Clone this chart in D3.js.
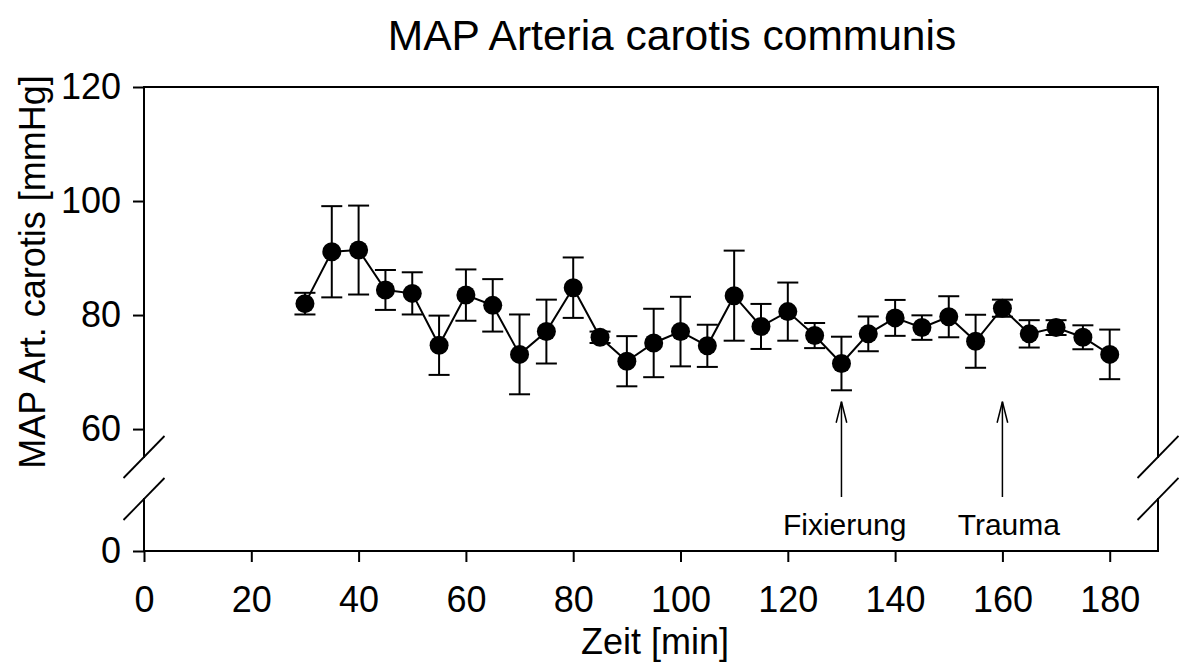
<!DOCTYPE html>
<meta charset="utf-8">
<html>
  <head>
    <title>MAP Arteria carotis communis</title>
    <style>
      body { margin: 0; background: #fff; }
      text { font-family: "Liberation Sans", Arial, sans-serif; fill: #000; }
    </style>
  </head>
  <body>
    <div id="chart"></div>
  </body>
<script src="https://d3js.org/d3.v7.min.js"></script>
<script>
// data
var times = [30,35,40,45,50,55,60,65,70,75,80,85,90,95,100,105,110,115,120,125,130,135,140,145,150,155,160,165,170,175,180]
var means = [82.0,91.1,91.4,84.4,83.8,74.7,83.5,81.7,73.1,77.1,84.8,76.1,71.9,75.1,77.1,74.6,83.4,78.0,80.6,76.4,71.5,76.7,79.5,77.8,79.7,75.4,81.2,76.7,77.8,76.1,73.1]
var errs  = [1.9,8.0,7.8,3.5,3.7,5.2,4.5,4.6,7.0,5.6,5.3,1.0,4.4,6.0,6.1,3.7,7.9,3.95,5.1,2.2,4.7,3.05,3.15,2.15,3.6,4.65,1.5,2.4,1.3,2.1,4.35]

var xTicks = [0,20,40,60,80,100,120,140,160,180]
var yTicksUpper = [60,80,100,120]
var yTicksLower = [0]

var events = [
  {label: "Fixierung", t: 130, tip: 64.8, labelT: 130.6},
  {label: "Trauma", t: 160, tip: 64.8, labelT: 161.2}
]

var margin = {top: 87, right: 21, bottom: 113, left: 144},
    width = 1179 - margin.left - margin.right,
    height = 664 - margin.top - margin.bottom;

var svg = d3.select("#chart")
  .append("svg")
    .attr("width", 1179)
    .attr("height", 664)

var g = svg.append("g")
    .attr("transform", "translate(" + margin.left + "," + margin.top + ")")

// broken y axis: upper part 55..120, lower part 0..9
var x = d3.scaleLinear().domain([0, 189]).range([0, width])
var yUp = d3.scaleLinear().domain([55.1, 120]).range([height - 94, 0])
var yLow = d3.scaleLinear().domain([0, 9.1]).range([height, height - 52])

var stroke = 2

// title
svg.append("text")
  .attr("x", 672)
  .attr("y", 50)
  .attr("text-anchor", "middle")
  .style("font-size", "42.5px")
  .text("MAP Arteria carotis communis")

// axes
var xAxis = g.append("g")
  .attr("transform", "translate(0," + height + ")")
  .call(d3.axisBottom(x).tickValues(xTicks).tickSize(11).tickPadding(24))
var yAxisUp = g.append("g")
  .call(d3.axisLeft(yUp).tickValues(yTicksUpper).tickSize(11).tickPadding(12))
var yAxisLow = g.append("g")
  .call(d3.axisLeft(yLow).tickValues(yTicksLower).tickSize(11).tickPadding(12))

g.selectAll(".domain").remove()
g.selectAll(".tick line").attr("stroke", "#000").attr("stroke-width", stroke)
g.selectAll(".tick text").style("font-size", "36px").attr("fill", "#000")

// frame lines
var frame = [
  [0, height, width, height],
  [0, 0, width, 0],
  [0, 0, 0, yUp(55.1)],
  [0, yLow(9.1), 0, height],
  [width, 0, width, yUp(55.1)],
  [width, yLow(9.1), width, height]
]
g.selectAll("frameLine")
  .data(frame)
  .enter()
  .append("line")
    .attr("x1", function(d){ return d[0] })
    .attr("y1", function(d){ return d[1] })
    .attr("x2", function(d){ return d[2] })
    .attr("y2", function(d){ return d[3] })
    .attr("stroke", "#000")
    .attr("stroke-width", stroke)
    .attr("stroke-linecap", "square")

// break marks
var breaks = []
;[0, width].forEach(function(bx){
  breaks.push([bx, yUp(55.1)])
  breaks.push([bx, yLow(9.1)])
})
g.selectAll("breakMark")
  .data(breaks)
  .enter()
  .append("line")
    .attr("x1", function(d){ return d[0] - 20.5 })
    .attr("y1", function(d){ return d[1] + 21 })
    .attr("x2", function(d){ return d[0] + 20.5 })
    .attr("y2", function(d){ return d[1] - 21 })
    .attr("stroke", "#000")
    .attr("stroke-width", 1.8)

// axis labels
svg.append("text")
  .attr("x", 655)
  .attr("y", 654)
  .attr("text-anchor", "middle")
  .style("font-size", "36px")
  .text("Zeit [min]")

svg.append("text")
  .attr("transform", "translate(45," + (margin.top + yUp(55.1) / 2) + ") rotate(-90)")
  .attr("text-anchor", "middle")
  .style("font-size", "36px")
  .text("MAP Art. carotis [mmHg]")

// data
var data = times.map(function(t, i){ return {t: t, m: means[i], e: errs[i]} })

g.append("path")
  .datum(data)
  .attr("fill", "none")
  .attr("stroke", "#000")
  .attr("stroke-width", stroke)
  .attr("d", d3.line()
    .x(function(d){ return x(d.t) })
    .y(function(d){ return yUp(d.m) }))

var bars = g.selectAll("errBar")
  .data(data)
  .enter()
  .append("g")
bars.append("line")
  .attr("x1", function(d){ return x(d.t) })
  .attr("x2", function(d){ return x(d.t) })
  .attr("y1", function(d){ return yUp(d.m - d.e) })
  .attr("y2", function(d){ return yUp(d.m + d.e) })
  .attr("stroke", "#000").attr("stroke-width", stroke)
bars.append("line")
  .attr("x1", function(d){ return x(d.t) - 10.5 })
  .attr("x2", function(d){ return x(d.t) + 10.5 })
  .attr("y1", function(d){ return yUp(d.m + d.e) })
  .attr("y2", function(d){ return yUp(d.m + d.e) })
  .attr("stroke", "#000").attr("stroke-width", stroke)
bars.append("line")
  .attr("x1", function(d){ return x(d.t) - 10.5 })
  .attr("x2", function(d){ return x(d.t) + 10.5 })
  .attr("y1", function(d){ return yUp(d.m - d.e) })
  .attr("y2", function(d){ return yUp(d.m - d.e) })
  .attr("stroke", "#000").attr("stroke-width", stroke)

g.selectAll("dot")
  .data(data)
  .enter()
  .append("circle")
    .attr("cx", function(d){ return x(d.t) })
    .attr("cy", function(d){ return yUp(d.m) })
    .attr("r", 9.5)
    .attr("fill", "#000")

// event arrows
var ev = g.selectAll("event")
  .data(events)
  .enter()
  .append("g")
ev.append("line")
  .attr("x1", function(d){ return x(d.t) })
  .attr("x2", function(d){ return x(d.t) })
  .attr("y1", height - 54)
  .attr("y2", function(d){ return yUp(d.tip) })
  .attr("stroke", "#000").attr("stroke-width", 1.5)
ev.append("path")
  .attr("fill", "none")
  .attr("stroke", "#000").attr("stroke-width", 1.5)
  .attr("d", function(d){
    var px = x(d.t), py = yUp(d.tip)
    return "M" + (px - 5.3) + "," + (py + 21) + "L" + px + "," + py + "L" + (px + 5.3) + "," + (py + 21)
  })
ev.append("text")
  .attr("x", function(d){ return x(d.labelT) })
  .attr("y", height - 16)
  .attr("text-anchor", "middle")
  .style("font-size", "30px")
  .text(function(d){ return d.label })
</script>
</html>
